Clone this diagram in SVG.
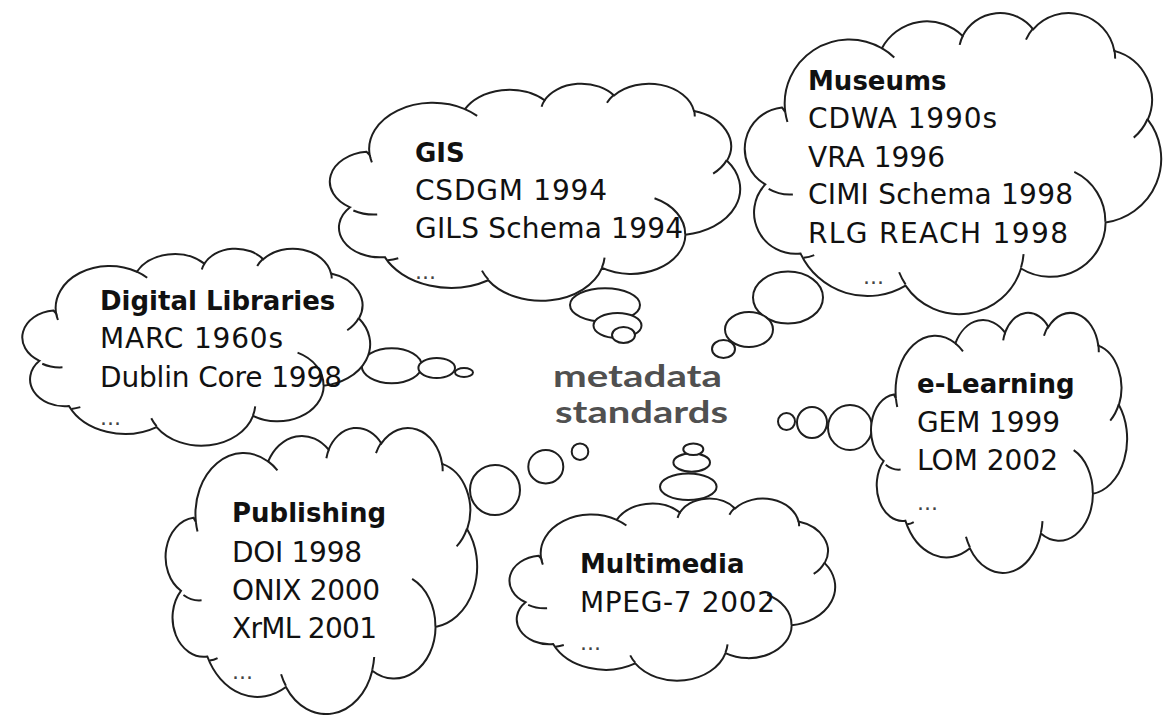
<svg xmlns="http://www.w3.org/2000/svg" xmlns:xlink="http://www.w3.org/1999/xlink" width="1163" height="715" viewBox="0 0 1163 715">
<style>
.cl{fill:#fff;stroke:#1e1e1e;stroke-width:2;vector-effect:non-scaling-stroke}
.cr{fill:none;stroke:#1e1e1e;stroke-width:2;vector-effect:non-scaling-stroke}
.b{fill:#fff;stroke:#1e1e1e;stroke-width:2}
.h{font-family:"DejaVu Sans",Verdana,sans-serif;font-weight:bold;font-size:26px;fill:#111}
.t{font-family:"DejaVu Sans",Verdana,sans-serif;font-size:28px;fill:#111}
.d{font-family:"DejaVu Sans",Verdana,sans-serif;font-size:22px;fill:#444}
.c{font-family:Lato,"Open Sans",sans-serif;font-weight:bold;font-size:30px;fill:#505050}
</style>
<defs>
<g id="cloud">
<path class="cl" d="M39,143.7 A67.53,91.9 0 0 1 140.05,52.02 A53.33,72.67 0 0 1 224.56,34.33 A43.65,59.45 0 0 1 298.33,24.81 A48.57,65.95 0 0 1 383.18,55.77 A53.33,72.73 0 0 1 418.19,154.6 A67.75,92.2 0 0 1 374.05,302.04 A57.85,78.67 0 0 1 285.56,368.14 A67.52,92.15 0 0 1 164.81,392.65 A77.2,105.43 0 0 1 55.01,346.68 A43.6,59.18 0 0 1 18.1,247.46 A43.45,59.45 0 0 1 35.6,137.03 Z"/>
<path class="cr" d="M46.93,261.77 A43.45,59.45 0 0 1 21.6,253.8 M69.28,348.99 A43.6,59.18 0 0 1 58.2,352.81 M164.78,390.9 A67.52,92.15 0 0 1 158.1,373.5 M288.27,347.51 A67.52,92.15 0 0 1 285.6,366.6 M341.29,229.54 A57.85,78.67 0 0 1 373.8,300.89 M417.98,153.54 A53.33,72.73 0 0 1 403.5,180.3 M383.24,54.26 A48.57,65.95 0 0 1 384.01,66.9 M290.78,39.52 A48.57,65.95 0 0 1 298.2,23.4 M221.41,47.2 A43.65,59.45 0 0 1 225,33.3 M140,51.92 A67.53,91.9 0 0 1 153,65.4 M41.27,157.89 A67.53,91.9 0 0 1 39,143.7"/>
</g>
</defs>
<rect width="1163" height="715" fill="#fff"/>

<g id="connectors">
<ellipse class="b" cx="391.7" cy="365.8" rx="30" ry="17.5"/>
<ellipse class="b" cx="436.7" cy="368" rx="18.3" ry="10"/>
<ellipse class="b" cx="464" cy="372.5" rx="9" ry="4.5"/>
<ellipse class="b" cx="605" cy="305" rx="35" ry="16.7"/>
<ellipse class="b" cx="617.5" cy="325.5" rx="24" ry="12.5"/>
<ellipse class="b" cx="623.5" cy="335" rx="11.5" ry="8"/>
<ellipse class="b" cx="788" cy="297.5" rx="35" ry="26"/>
<ellipse class="b" cx="749" cy="329.5" rx="24" ry="17.5"/>
<ellipse class="b" cx="723.5" cy="349" rx="11.5" ry="9"/>
<ellipse class="b" cx="850" cy="427.5" rx="22" ry="22.5"/>
<ellipse class="b" cx="812" cy="422.5" rx="15" ry="15.5"/>
<ellipse class="b" cx="786.5" cy="421.5" rx="8.5" ry="8.5"/>
<ellipse class="b" cx="495" cy="490" rx="25" ry="25"/>
<ellipse class="b" cx="545.8" cy="466.7" rx="17.5" ry="16.7"/>
<ellipse class="b" cx="580" cy="451.7" rx="8.3" ry="8.3"/>
<ellipse class="b" cx="688.3" cy="486.7" rx="28.3" ry="13.3"/>
<ellipse class="b" cx="691.7" cy="462.5" rx="18.3" ry="9.2"/>
<ellipse class="b" cx="693.3" cy="449.2" rx="10" ry="5.8"/>
</g>

<g id="node-gis">
<use xlink:href="#cloud" href="#cloud" transform="translate(333,83) scale(0.9421,0.5023)"/>
<text class="h" x="415" y="162">GIS</text>
<text class="t" x="415" y="200" textLength="192" lengthAdjust="spacing">CSDGM 1994</text>
<text class="t" x="415" y="238" textLength="268" lengthAdjust="spacing">GILS Schema 1994</text>
<text class="d" x="415" y="279">...</text>
</g>

<g id="node-museums">
<use xlink:href="#cloud" href="#cloud" transform="translate(748,12) scale(0.956,0.6968)"/>
<text class="h" x="808" y="90">Museums</text>
<text class="t" x="808" y="128" textLength="189" lengthAdjust="spacing">CDWA 1990s</text>
<text class="t" x="808" y="167" textLength="137" lengthAdjust="spacing">VRA 1996</text>
<text class="t" x="808" y="204" textLength="265" lengthAdjust="spacing">CIMI Schema 1998</text>
<text class="t" x="808" y="243" textLength="260" lengthAdjust="spacing">RLG REACH 1998</text>
<text class="d" x="863" y="284">...</text>
</g>

<g id="node-digital-libraries">
<use xlink:href="#cloud" href="#cloud" transform="translate(25,248) scale(0.7986,0.456)"/>
<text class="h" x="100" y="310">Digital Libraries</text>
<text class="t" x="100" y="348" textLength="183" lengthAdjust="spacing">MARC 1960s</text>
<text class="t" x="100" y="387" textLength="242" lengthAdjust="spacing">Dublin Core 1998</text>
<text class="d" x="100" y="425">...</text>
</g>

<g id="node-elearning">
<use xlink:href="#cloud" href="#cloud" transform="translate(873,312) scale(0.588,0.6019)"/>
<text class="h" x="917" y="393">e-Learning</text>
<text class="t" x="917" y="432" textLength="143" lengthAdjust="spacing">GEM 1999</text>
<text class="t" x="917" y="470" textLength="141" lengthAdjust="spacing">LOM 2002</text>
<text class="d" x="917" y="510">...</text>
</g>

<g id="node-publishing">
<use xlink:href="#cloud" href="#cloud" transform="translate(168,427) scale(0.7153,0.662)"/>
<text class="h" x="232" y="522">Publishing</text>
<text class="t" x="232" y="562" textLength="130" lengthAdjust="spacing">DOI 1998</text>
<text class="t" x="232" y="600" textLength="148" lengthAdjust="spacing">ONIX 2000</text>
<text class="t" x="232" y="638" textLength="145" lengthAdjust="spacing">XrML 2001</text>
<text class="d" x="232" y="679">...</text>
</g>

<g id="node-multimedia">
<use xlink:href="#cloud" href="#cloud" transform="translate(512,498) scale(0.7477,0.4213)"/>
<text class="h" x="580" y="573">Multimedia</text>
<text class="t" x="580" y="612" textLength="195" lengthAdjust="spacing">MPEG-7 2002</text>
<text class="d" x="580" y="650">...</text>
</g>

<g id="node-center">
<text class="c" x="553" y="387" textLength="169" lengthAdjust="spacingAndGlyphs">metadata</text>
<text class="c" x="555" y="423" textLength="173" lengthAdjust="spacingAndGlyphs">standards</text>
</g>
</svg>
